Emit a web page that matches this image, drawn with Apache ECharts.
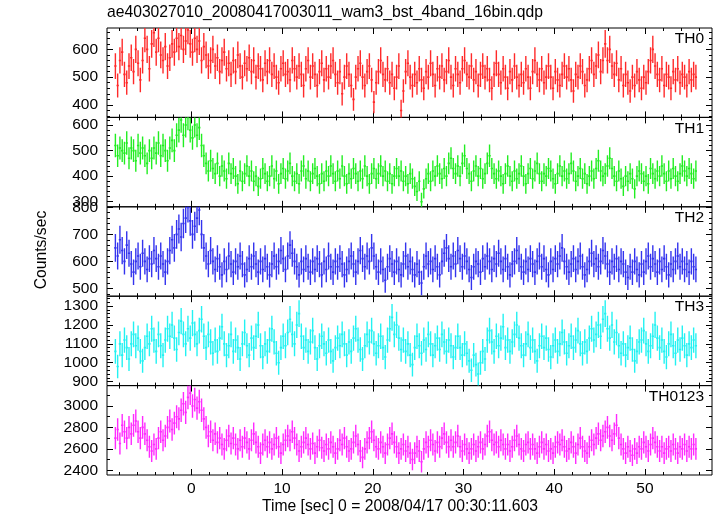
<!DOCTYPE html>
<html>
<head>
<meta charset="utf-8">
<script src="https://cdn.jsdelivr.net/npm/echarts@6/dist/echarts.min.js"></script>
<style>html,body{margin:0;padding:0;background:#fff}#c{width:717px;height:516px}</style>
</head>
<body>
<div id="c"></div>
<script>
// ---- data (count rate, counts/sec, 0.25 s bins) ----
const T0 = -8.375;   // centre of first bin [s]
const DT = 0.25;     // bin width [s]
const TH0 = [
540,470,560,590, 510,480,540,570, 520,600,550,490, 560,640,600,530, 620,660,590,640,
580,560,610,540, 570,620,590,640, 610,650,600,630, 670,620,590,640, 600,630,560,610,
580,540,560,600, 540,570,520,560, 590,530,550,510, 560,520,580,540, 500,550,530,570,
520,560,500,540, 530,490,550,520, 560,510,540,500, 480,530,550,510, 520,490,560,530,
500,540,510,470, 530,560,500,540, 510,470,520,550, 490,530,500,540, 560,510,480,520,
440,500,540,510, 470,420,500,530, 550,500,470,520, 540,490,410,480, 520,560,510,490,
530,480,510,460, 500,540,380,450, 520,550,500,470, 510,480,530,490, 460,520,500,550,
510,470,530,500, 540,490,520,560, 500,470,530,510, 480,530,560,510, 500,540,490,520,
470,510,540,500, 530,490,460,510, 550,510,480,530, 500,460,520,490, 540,500,470,510,
480,530,500,460, 520,560,510,490, 530,480,500,540, 500,460,520,490, 470,510,540,500,
530,490,450,510, 500,540,520,470, 490,530,560,510, 540,580,520,560, 620,560,600,540,
510,550,490,530, 470,510,480,450, 500,470,520,490, 460,500,480,520, 560,600,540,510,
490,530,470,510, 500,460,520,490, 530,480,510,500, 470,520,490,510, 500
];
const TH1 = [
520,480,510,500, 490,530,470,510, 500,460,520,490, 510,480,450,500, 470,510,490,530,
480,520,500,460, 510,540,500,560, 580,620,560,600, 630,580,550,600, 560,590,520,480,
450,420,460,430, 410,450,400,440, 420,390,450,410, 430,400,370,420, 380,410,440,400,
420,380,400,360, 390,430,410,380, 400,440,390,420, 370,410,430,390, 420,450,400,380,
410,370,420,440, 390,420,380,410, 430,400,370,410, 380,420,400,440, 410,380,420,390,
440,400,370,410, 390,430,410,380, 420,390,440,400, 370,410,430,390, 410,440,400,420,
380,410,370,400, 430,400,420,380, 400,370,410,390, 360,340,380,300, 350,390,410,380,
420,400,440,410, 390,430,400,450, 470,430,410,440, 400,450,480,430, 410,380,420,440,
400,430,390,410, 450,480,430,410, 390,420,400,370, 410,440,400,380, 420,390,410,440,
400,370,410,430, 390,420,450,410, 380,410,400,430, 420,390,370,410, 440,400,420,390,
410,450,420,380, 400,430,390,410, 370,400,420,390, 430,460,420,400, 410,440,470,430,
400,380,420,390, 360,400,380,410, 390,350,400,420, 410,380,400,370, 430,410,390,420,
400,440,410,380, 420,390,430,400, 380,410,440,420, 400,430,410,390, 420
];
const TH2 = [
650,620,680,640, 600,660,630,590, 560,600,620,580, 630,600,570,610, 590,640,610,580,
620,590,560,600, 640,680,650,700, 720,690,740,760, 800,750,700,730, 760,790,700,650,
620,590,640,600, 570,610,580,550, 600,570,620,590, 560,600,580,620, 590,550,570,610,
580,620,590,560, 600,570,610,580, 550,590,620,580, 600,640,610,570, 620,660,630,600,
580,550,600,570, 610,580,560,600, 570,610,590,550, 600,570,620,580, 560,600,580,610,
590,550,570,600, 620,590,560,600, 640,610,580,620, 600,650,620,580, 560,600,570,530,
580,610,590,560, 600,570,550,590, 620,580,600,570, 550,590,560,520, 580,620,590,600,
570,610,580,550, 600,630,650,610, 580,620,590,640, 610,580,620,600, 570,540,580,600,
590,560,610,580, 620,600,570,610, 590,630,600,570, 610,580,550,590, 600,640,610,580,
560,600,570,610, 590,560,600,620, 580,610,570,550, 600,570,610,590, 620,650,600,580,
560,590,610,570, 600,620,580,550, 570,600,630,590, 610,580,600,640, 620,590,560,600,
580,610,570,600, 590,560,540,580, 560,600,570,550, 590,560,600,620, 580,610,590,560,
600,570,610,580, 550,590,570,600, 620,580,600,570, 590,560,600,580, 570
];
const TH3 = [
1060,980,1100,1040, 1120,1080,1020,1100, 1150,1090,1130,1060, 1010,1080,1140,1100, 1180,1120,1060,1150,
1090,1040,1120,1180, 1140,1200,1130,1070, 1160,1220,1150,1100, 1180,1130,1210,1150, 1100,1170,1230,1140,
1080,1150,1110,1050, 1120,1060,1130,1190, 1100,1040,1090,1150, 1060,1120,1080,1020, 1100,1160,1090,1040,
1130,1080,1140,1200, 1090,1030,1100,1060, 1120,1180,1110,1050, 1000,1080,1140,1090, 1160,1230,1150,1100,
1200,1260,1140,1080, 1120,1060,1110,1170, 1080,1020,1090,1140, 1100,1050,1120,1060, 1010,1080,1130,1090,
1150,1100,1040,1110, 1060,1130,1180,1120, 1070,1020,1090,1150, 1110,1170,1100,1050, 1090,1140,1080,1030,
1120,1180,1240,1150, 1200,1130,1070,1120, 1060,1100,1040,990, 1080,1140,1090,1050, 1120,1070,1150,1100,
1040,1090,1130,1070, 1150,1110,1060,1120, 1090,1030,1080,1140, 1080,1040,1100,1050, 1010,960,1040,990,
940,1000,1060,1020, 1120,1170,1110,1060, 1140,1090,1130,1190, 1080,1120,1060,1110, 1150,1200,1130,1090,
1040,1100,1150,1080, 1120,1060,1010,1090, 1140,1080,1130,1070, 1030,1090,1120,1060, 1100,1160,1110,1050,
1090,1140,1080,1120, 1170,1100,1050,1110, 1060,1130,1180,1120, 1150,1200,1140,1230, 1260,1180,1130,1200,
1110,1160,1090,1050, 1100,1040,1080,1130, 1070,1010,1060,1110, 1120,1170,1100,1060, 1090,1140,1200,1130,
1080,1120,1060,1030, 1100,1150,1090,1050, 1120,1070,1130,1090, 1040,1100,1080,1120, 1090
];
const TH0123 = [
2700,2780,2650,2820, 2760,2700,2800,2740, 2820,2860,2760,2700, 2800,2740,2680,2620, 2580,2640,2600,2700,
2760,2680,2720,2800, 2860,2780,2840,2900, 2880,2960,3020,2940, 3080,3120,3000,3060, 2980,3040,2960,2880,
2800,2720,2760,2680, 2740,2660,2700,2640, 2600,2680,2720,2650, 2700,2640,2600,2680, 2620,2700,2660,2600,
2680,2740,2660,2620, 2560,2640,2680,2620, 2660,2600,2640,2700, 2620,2560,2640,2680, 2720,2680,2760,2700,
2640,2580,2620,2660, 2700,2640,2600,2650, 2560,2620,2680,2610, 2580,2640,2600,2660, 2620,2560,2600,2680,
2640,2700,2620,2580, 2600,2660,2720,2640, 2580,2520,2600,2660, 2700,2760,2680,2620, 2600,2660,2620,2560,
2640,2700,2740,2660, 2620,2560,2600,2640, 2580,2620,2560,2500, 2560,2620,2580,2480, 2600,2660,2620,2680,
2640,2580,2660,2620, 2700,2740,2660,2620, 2680,2620,2660,2720, 2620,2580,2640,2600, 2560,2600,2640,2580,
2620,2660,2600,2640, 2720,2760,2680,2640, 2660,2620,2680,2640, 2600,2640,2580,2620, 2680,2720,2640,2600,
2580,2640,2660,2600, 2640,2600,2560,2620, 2660,2600,2640,2580, 2600,2560,2620,2660, 2640,2680,2620,2580,
2600,2660,2620,2560, 2640,2700,2620,2580, 2560,2620,2680,2640, 2700,2740,2680,2720, 2760,2800,2720,2680,
2740,2820,2700,2640, 2600,2560,2620,2580, 2540,2600,2560,2620, 2600,2660,2620,2580, 2640,2700,2660,2620,
2580,2620,2560,2600, 2620,2580,2640,2600, 2560,2620,2600,2640, 2580,2620,2600,2640, 2600
];

// ---- axes / tick labels ----
const X_MIN = -9.3, X_MAX = 57.4;
const X_MAJOR = [0, 10, 20, 30, 40, 50];
const X_MINOR = [-8,-6,-4,-2,2,4,6,8,12,14,16,18,22,24,26,28,32,34,36,38,42,44,46,48,52,54,56];
const TH0_TICKS = [400, 500, 600];
const TH1_TICKS = [300, 400, 500, 600];
const TH2_TICKS = [500, 600, 700, 800];
const TH3_TICKS = [900, 1000, 1100, 1200, 1300];
const TH0123_TICKS = [2400, 2600, 2800, 3000];
const NAMES = ['TH0', 'TH1', 'TH2', 'TH3', 'TH0123'];
const TITLE = 'ae403027010_20080417003011_wam3_bst_4band_16bin.qdp';
const X_NAME = 'Time [sec] 0 = 2008/04/17 00:30:11.603';
const Y_NAME = 'Counts/sec';

const panels = [
  {name: NAMES[0], data: TH0,    ticks: TH0_TICKS,    minorStep: 20,  min: 355,  max: 677,  color: '#ff2a2a'},
  {name: NAMES[1], data: TH1,    ticks: TH1_TICKS,    minorStep: 20,  min: 280,  max: 630,  color: '#22ee22'},
  {name: NAMES[2], data: TH2,    ticks: TH2_TICKS,    minorStep: 20,  min: 471,  max: 802,  color: '#3333ee'},
  {name: NAMES[3], data: TH3,    ticks: TH3_TICKS,    minorStep: 20,  min: 879,  max: 1352, color: '#22f2f2'},
  {name: NAMES[4], data: TH0123, ticks: TH0123_TICKS, minorStep: 100, min: 2356, max: 3190, color: '#ff2aff'}
];

const FONT = 'Liberation Sans, Arial, Helvetica, sans-serif';
const GRID_LEFT = 107, GRID_RIGHT = 5, GRID_TOP = 28, GRID_H = 89.4;

function minorValues(p) {
  const out = [];
  const start = Math.ceil(p.min / p.minorStep) * p.minorStep;
  for (let v = start; v <= p.max; v += p.minorStep) {
    if (p.ticks.indexOf(v) < 0) out.push(v);
  }
  return out;
}
const plain = v => String(v);

const grids = [], xAxes = [], yAxes = [], series = [], graphics = [];
panels.forEach((p, i) => {
  const top = GRID_TOP + i * GRID_H;
  grids.push({left: GRID_LEFT, right: GRID_RIGHT, top: top, height: GRID_H,
              show: true, borderColor: '#000', borderWidth: 1, backgroundColor: 'transparent'});
  const xBase = xAxes.length;
  [['bottom', X_MAJOR, 6, true], ['bottom', X_MINOR, 3, false], ['top', X_MAJOR, 6, false], ['top', X_MINOR, 3, false]]
    .forEach(([pos, vals, len, lab]) => {
      xAxes.push({
        type: 'value', gridIndex: i, position: pos, min: X_MIN, max: X_MAX,
        axisLine: {show: false, onZero: false}, splitLine: {show: false},
        axisTick: {show: true, inside: true, length: len, customValues: vals, lineStyle: {color: '#000', width: 1}},
        axisLabel: {show: lab && i === panels.length - 1, customValues: vals, color: '#000', formatter: plain,
                    fontFamily: FONT, fontSize: 15.5, margin: 6}
      });
    });
  const yBase = yAxes.length;
  const minors = minorValues(p);
  [['left', p.ticks, 6, true], ['left', minors, 3, false], ['right', p.ticks, 6, false], ['right', minors, 3, false]]
    .forEach(([pos, vals, len, lab]) => {
      yAxes.push({
        type: 'value', gridIndex: i, position: pos, min: p.min, max: p.max,
        axisLine: {show: false, onZero: false}, splitLine: {show: false},
        axisTick: {show: true, inside: true, length: len, customValues: vals, lineStyle: {color: '#000', width: 1}},
        axisLabel: {show: lab, customValues: vals, color: '#000', formatter: plain,
                    fontFamily: FONT, fontSize: 15.5, margin: 9}
      });
    });
  const color = p.color;
  series.push({
    type: 'custom', name: p.name, xAxisIndex: xBase, yAxisIndex: yBase, clip: true,
    data: p.data.map((v, k) => [T0 + k * DT, v, Math.sqrt(v / DT)]),
    renderItem: function (params, api) {
      const t = api.value(0), v = api.value(1), e = api.value(2);
      const a = api.coord([t - DT / 2, v]), b = api.coord([t + DT / 2, v]);
      const u = api.coord([t, v + e]), d = api.coord([t, v - e]);
      return {type: 'group', children: [
        {type: 'line', shape: {x1: u[0], y1: u[1], x2: d[0], y2: d[1]}, style: {stroke: color, lineWidth: 1.4}},
        {type: 'line', shape: {x1: a[0], y1: a[1], x2: b[0], y2: b[1]}, style: {stroke: color, lineWidth: 1.6}}
      ]};
    }
  });
  graphics.push({type: 'text', right: 13, top: top + 3,
                 style: {text: p.name, font: '15.5px ' + FONT, fill: '#000'}});
});

graphics.push({type: 'text', left: 107, top: 5, style: {text: TITLE, font: '15.7px ' + FONT, fill: '#000'}});
graphics.push({type: 'text', x: 42, y: 250, rotation: Math.PI / 2,
               style: {text: Y_NAME, font: '15.7px ' + FONT, fill: '#000', align: 'center', verticalAlign: 'middle'}});
graphics.push({type: 'text', x: 400, y: 507,
               style: {text: X_NAME, font: '15.7px ' + FONT, fill: '#000', align: 'center', verticalAlign: 'middle'}});

const chart = echarts.init(document.getElementById('c'), null, {renderer: 'canvas'});
chart.setOption({
  animation: false,
  backgroundColor: '#fff',
  grid: grids, xAxis: xAxes, yAxis: yAxes, series: series, graphic: graphics
});
</script>
</body>
</html>
